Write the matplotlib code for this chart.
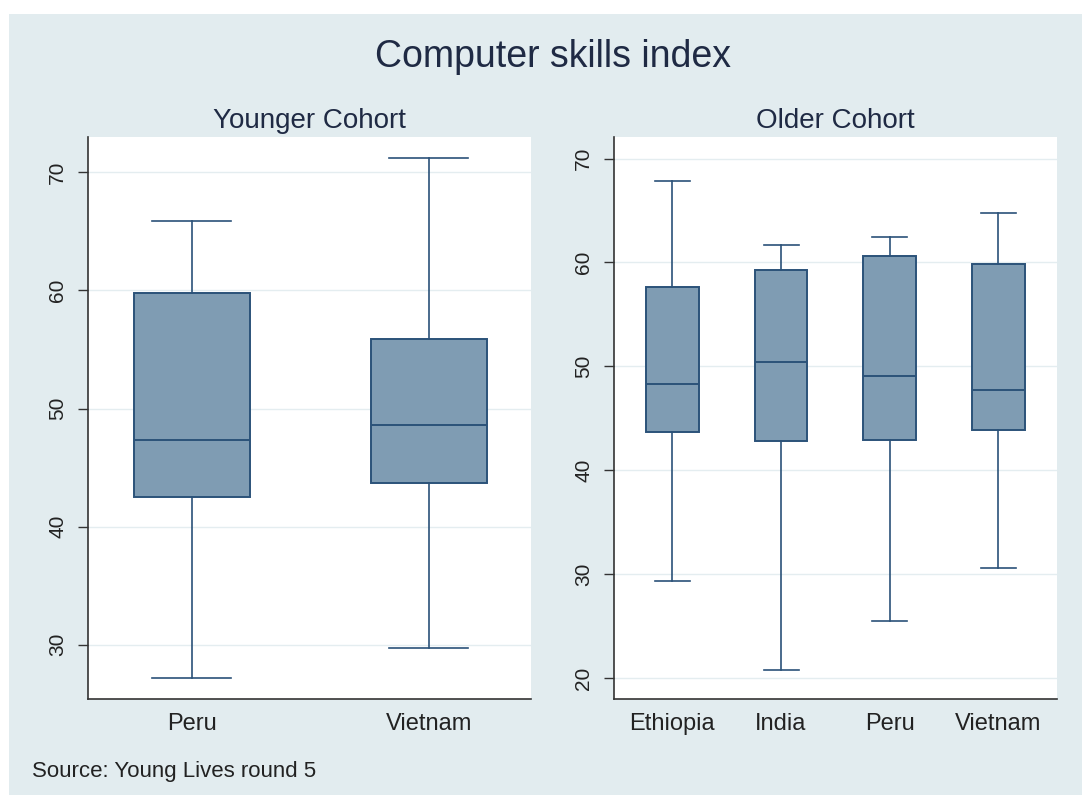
import matplotlib
matplotlib.use("Agg")
import matplotlib.pyplot as plt
from matplotlib.patches import Rectangle

plt.rcParams['font.family'] = ['Liberation Sans', 'DejaVu Sans']

# five-number summaries
young_countries = ['Peru', 'Vietnam']
young_whislo = [27.2, 29.7]
young_q1 = [42.5, 43.7]
young_med = [47.3, 48.6]
young_q3 = [59.8, 55.9]
young_whishi = [65.9, 71.2]

old_countries = ['Ethiopia', 'India', 'Peru', 'Vietnam']
old_whislo = [29.3, 20.8, 25.5, 30.6]
old_q1 = [43.7, 42.8, 42.9, 43.9]
old_med = [48.3, 50.4, 49.1, 47.7]
old_q3 = [57.6, 59.3, 60.6, 59.8]
old_whishi = [67.8, 61.7, 62.4, 64.8]

BG = '#e2ecef'
FILL = '#7f9cb3'
EDGE = '#2b5279'
GRID = '#e4edf0'
TXT = '#1f2a44'

fig = plt.figure(figsize=(10.82, 7.96), dpi=100, facecolor='white')
fig.patches.append(Rectangle((9 / 1082, 1 / 796), 1, 781 / 796,
                             transform=fig.transFigure, facecolor=BG,
                             edgecolor='none', zorder=-10))


def make_stats(names, lo, q1, med, q3, hi):
    return [dict(label=n, whislo=a, q1=b, med=c, q3=d, whishi=e, fliers=[])
            for n, a, b, c, d, e in zip(names, lo, q1, med, q3, hi)]


def draw(ax, stats, ylim, xlim, yticks, width, capw):
    pos = list(range(1, len(stats) + 1))
    ax.bxp(stats, positions=pos, widths=width, capwidths=capw,
           patch_artist=True, showfliers=False,
           boxprops=dict(facecolor=FILL, edgecolor=EDGE, linewidth=1.4),
           medianprops=dict(color=EDGE, linewidth=1.4),
           whiskerprops=dict(color=EDGE, linewidth=1.2),
           capprops=dict(color=EDGE, linewidth=1.2))
    ax.set_xlim(*xlim)
    ax.set_ylim(*ylim)
    ax.set_yticks(yticks)
    ax.set_yticklabels([str(t) for t in yticks], rotation=90, va='center',
                       fontsize=15, color='#222222')
    ax.set_xticks(pos)
    ax.set_xticklabels([s['label'] for s in stats], fontsize=17, color='#222222')
    ax.tick_params(axis='x', length=0, pad=10)
    ax.tick_params(axis='y', length=7, width=1, color='#333333', pad=8)
    ax.yaxis.grid(True, color=GRID, linewidth=1)
    ax.set_axisbelow(True)
    for side in ['top', 'right']:
        ax.spines[side].set_visible(False)
    for side in ['left', 'bottom']:
        ax.spines[side].set_color('#333333')
        ax.spines[side].set_linewidth(1.2)
    ax.set_facecolor('white')


ax1 = fig.add_axes([88 / 1082, 1 - 699 / 796, 443 / 1082, 562 / 796])
draw(ax1, make_stats(young_countries, young_whislo, young_q1, young_med, young_q3, young_whishi),
     (25.4, 73.0), (0.563, 2.432), [30, 40, 50, 60, 70], 0.49, 0.335)

ax2 = fig.add_axes([614 / 1082, 1 - 699 / 796, 443 / 1082, 562 / 796])
draw(ax2, make_stats(old_countries, old_whislo, old_q1, old_med, old_q3, old_whishi),
     (17.97, 72.07), (0.463, 4.54), [20, 30, 40, 50, 60, 70], 0.485, 0.322)

fig.text(553 / 1082, 1 - 67 / 796, 'Computer skills index', ha='center',
         va='baseline', fontsize=27, color=TXT)
fig.text(309.5 / 1082, 1 - 128 / 796, 'Younger Cohort', ha='center',
         va='baseline', fontsize=20, color=TXT)
fig.text(835.5 / 1082, 1 - 128 / 796, 'Older Cohort', ha='center',
         va='baseline', fontsize=20, color=TXT)
fig.text(32 / 1082, 1 - 777 / 796, 'Source: Young Lives round 5', ha='left',
         va='baseline', fontsize=16, color='#222222')

fig.savefig('out.png', dpi=100, facecolor='white')
